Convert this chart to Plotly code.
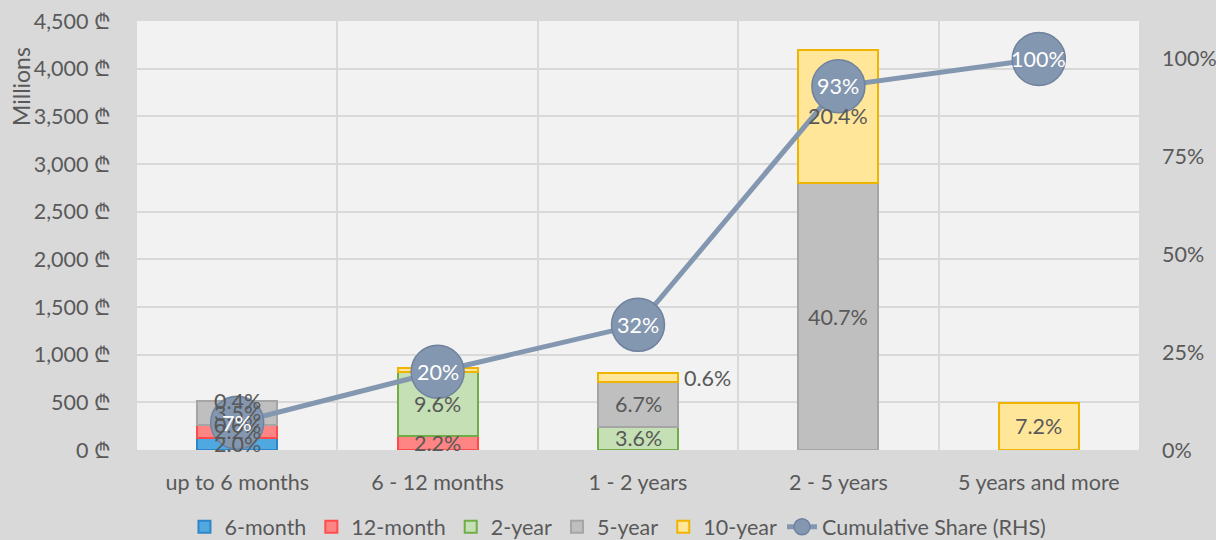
import plotly.graph_objects as go

# ---- data (millions of GEL) ----
categories = ["up to 6 months", "6 - 12 months", "1 - 2 years", "2 - 5 years", "5 years and more"]
series_names = ["6-month", "12-month", "2-year", "5-year", "10-year"]
m6 = [130, 0, 0, 0, 0]
m12 = [135, 150, 0, 0, 0]
y2 = [0, 670, 245, 0, 0]
y5 = [245, 0, 465, 2800, 0]
y10 = [0, 35, 100, 1400, 495]

lbl_m6 = ["2.0%", None, None, None, None]
lbl_m12 = ["2.2%", "2.2%", None, None, None]
lbl_y2 = ["0.0%", "9.6%", "3.6%", None, None]
lbl_y5 = ["3.5%", None, "6.7%", "40.7%", None]
lbl_y10 = ["0.4%", None, "0.6%", "20.4%", "7.2%"]

cum_share = [0.07, 0.20, 0.32, 0.93, 1.00]
cum_labels = ["7%", "20%", "32%", "93%", "100%"]

values = [m6, m12, y2, y5, y10]
labels = [lbl_m6, lbl_m12, lbl_y2, lbl_y5, lbl_y10]

fills = ["#4FA8E0", "#FF8585", "#C5E0B4", "#BFBFBF", "#FFE699"]
borders = ["#2E86C8", "#FF4B4B", "#70AD47", "#A5A5A5", "#F0B400"]

FONT = "Lato, 'DejaVu Sans', sans-serif"
TXT = "#595959"
FS = 21.5

fig = go.Figure()
for name, vals, fc, bc in zip(series_names, values, fills, borders):
    fig.add_trace(go.Bar(
        x=categories, y=[v if v else None for v in vals], name=name,
        marker=dict(color=fc, line=dict(color=bc, width=2)),
        hoverinfo="skip",
    ))

fig.add_trace(go.Scatter(
    x=categories, y=cum_share, name="Cumulative Share (RHS)", yaxis="y2",
    mode="lines+markers",
    line=dict(color="#8497B0", width=5),
    marker=dict(size=53, color="#8497B0", line=dict(color="#6F829E", width=1.5)),
    hoverinfo="skip",
))

annotations = []
base = [0.0] * len(categories)
outside = {(4, 2): 44}  # (series index, category index) -> xshift
for si, (vals, lbls) in enumerate(zip(values, labels)):
    for ci, (v, t) in enumerate(zip(vals, lbls)):
        if t is not None:
            shift = outside.get((si, ci), 0)
            annotations.append(dict(
                x=categories[ci], y=base[ci] + v / 2, xref="x", yref="y",
                text=t, showarrow=False, xshift=shift,
                xanchor="left" if shift else "center",
                font=dict(family=FONT, size=FS, color=TXT),
            ))
        base[ci] += v

for c, s, t in zip(categories, cum_share, cum_labels):
    annotations.append(dict(
        x=c, y=s, xref="x", yref="y2", text=t, showarrow=False,
        font=dict(family=FONT, size=FS, color="white"),
    ))

annotations.append(dict(
    x=(21 - 137) / 1002, y=(450 - 87) / 429, xref="paper", yref="paper", text="Millions",
    textangle=-90, showarrow=False, xanchor="center", yanchor="middle",
    font=dict(family=FONT, size=23, color=TXT),
))

fig.update_layout(
    width=1216, height=540,
    margin=dict(l=137, r=77, t=21, b=90, autoexpand=False),
    paper_bgcolor="#D9D9D9", plot_bgcolor="#F2F2F2",
    barmode="stack", bargap=0.6,
    font=dict(family=FONT, size=FS, color=TXT),
    showlegend=True,
    legend=dict(orientation="h", x=0.48, xanchor="center", y=-0.179, yanchor="middle",
                font=dict(family=FONT, size=FS, color=TXT), bgcolor="rgba(0,0,0,0)",
                traceorder="normal"),
    xaxis=dict(type="category", tickson="boundaries", showgrid=True, gridcolor="#D9D9D9",
               gridwidth=2, ticks="", ticklabelstandoff=17, zeroline=False, automargin=False,
               tickfont=dict(family=FONT, size=FS, color=TXT)),
    yaxis=dict(range=[0, 4500], dtick=500, tickformat=",", ticksuffix=" ₾",
               showgrid=True, gridcolor="#D9D9D9", gridwidth=2, zeroline=False,
               ticks="", ticklabelstandoff=25, automargin=False,
               tickfont=dict(family=FONT, size=FS, color=TXT)),
    yaxis2=dict(overlaying="y", side="right", range=[0, 1.097],
                tickvals=[0, 0.25, 0.5, 0.75, 1.0], tickformat=".0%",
                showgrid=False, zeroline=False, ticks="", ticklabelstandoff=22, automargin=False,
                tickfont=dict(family=FONT, size=FS, color=TXT)),
    annotations=annotations,
)

fig.write_html("out.html", config={"displayModeBar": False},
               post_script="document.body.style.margin='0';")
